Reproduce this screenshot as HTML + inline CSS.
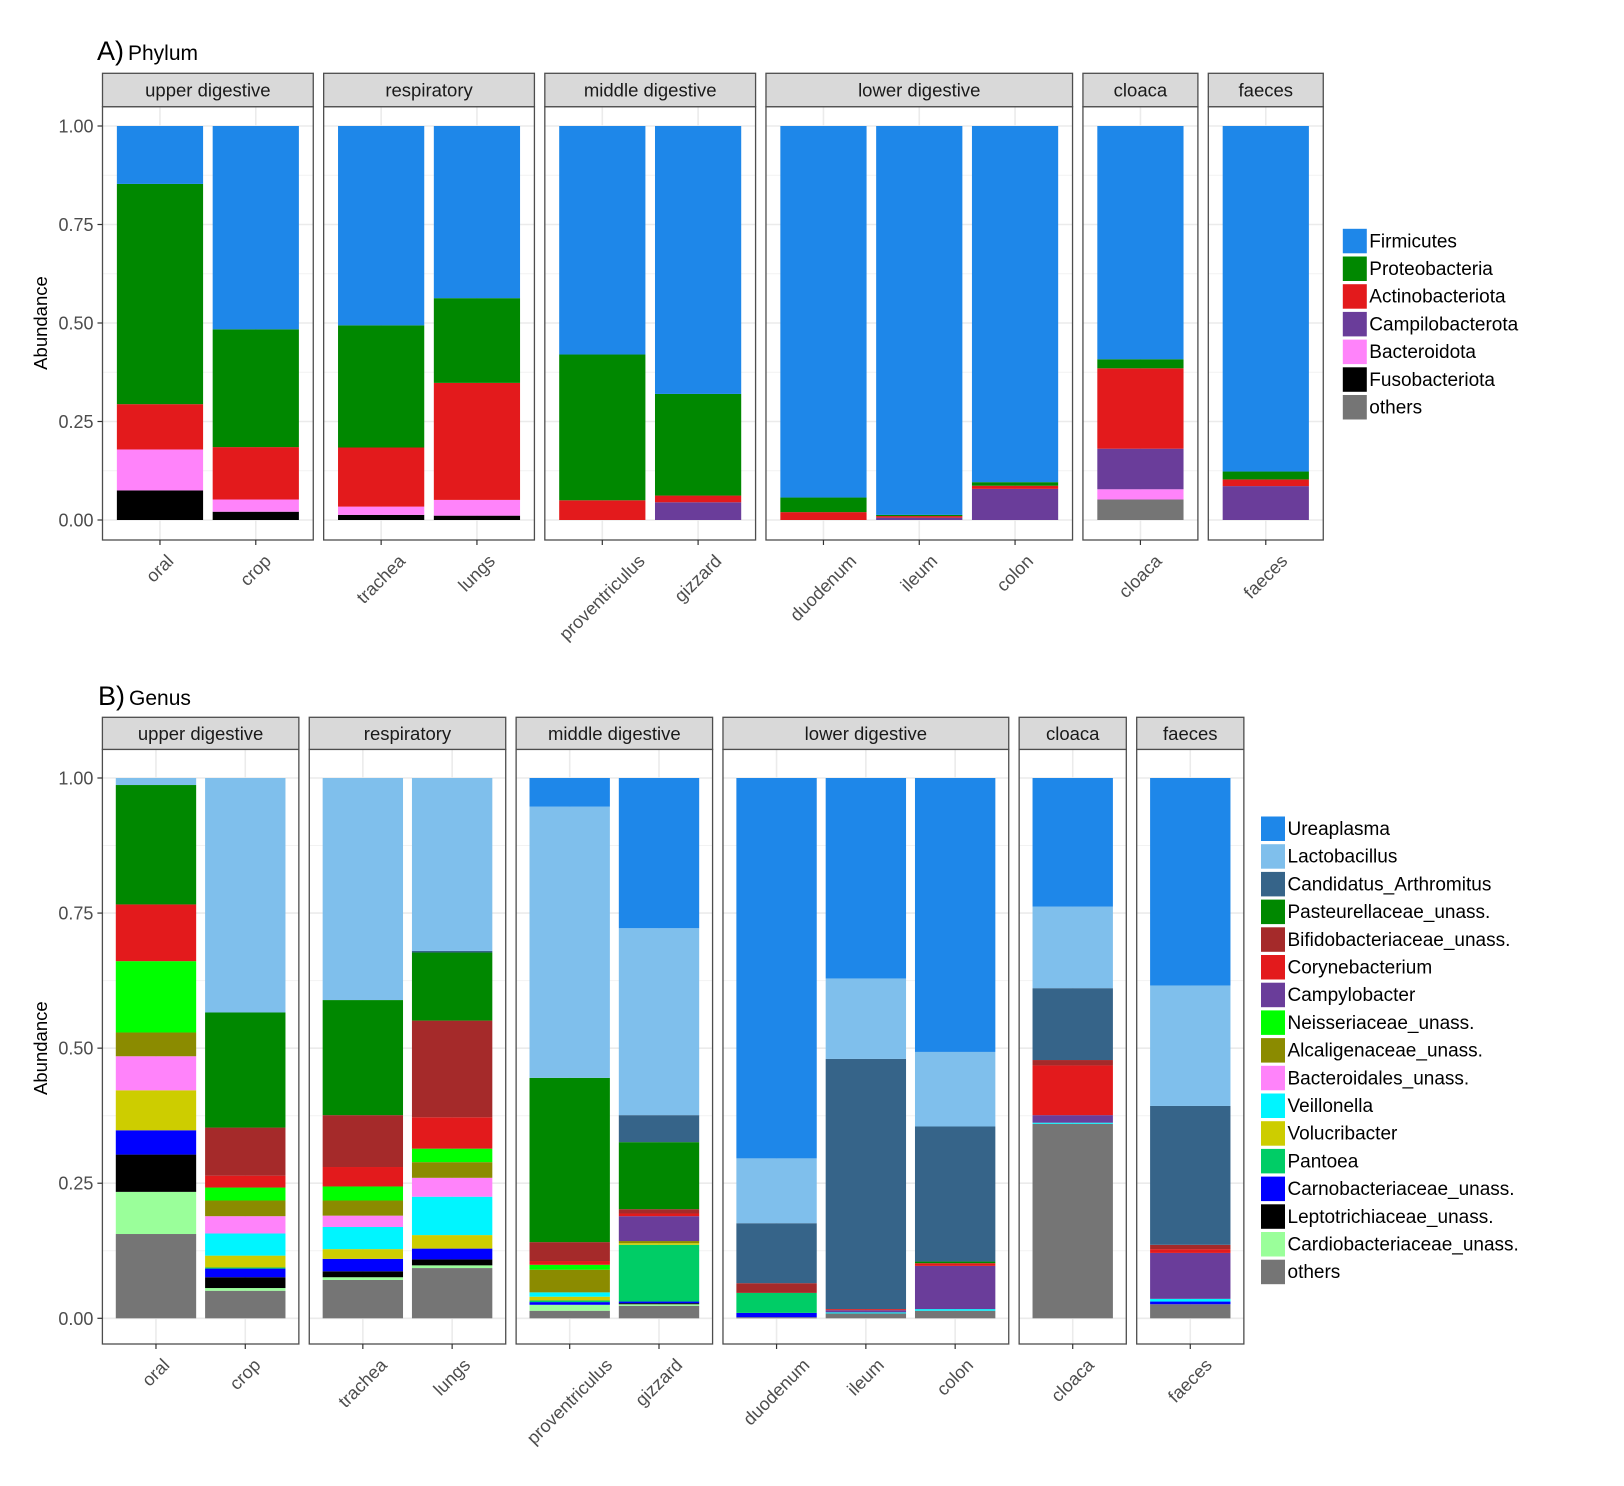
<!DOCTYPE html>
<html><head><meta charset="utf-8"><style>
html,body{margin:0;padding:0;background:#fff;}
svg{display:block;font-family:"Liberation Sans",Arial,sans-serif;}
</style></head><body>
<svg id="chart" width="1624" height="1486" viewBox="0 0 1624 1486" xmlns="http://www.w3.org/2000/svg">
<text x="97" y="60"><tspan font-size="27">A)</tspan><tspan font-size="21" dx="4">Phylum</tspan></text>
<text x="98" y="705"><tspan font-size="27">B)</tspan><tspan font-size="21" dx="4">Genus</tspan></text>
</svg>
<script>
// ---------- shared data ----------
const groups = ["upper digestive","respiratory","middle digestive","lower digestive","cloaca","faeces"];
const groupSamples = [["oral","crop"],["trachea","lungs"],["proventriculus","gizzard"],["duodenum","ileum","colon"],["cloaca"],["faeces"]];
const yTicks = [0,0.25,0.5,0.75,1];
const yTickLabels = ["0.00","0.25","0.50","0.75","1.00"];

// ---------- Phylum data (stack order bottom -> top is reverse of legend) ----------
const phylaNames = ["Firmicutes","Proteobacteria","Actinobacteriota","Campilobacterota","Bacteroidota","Fusobacteriota","others"];
const phylaColors = ["#1e87e9","#008800","#e31a1c","#6a3d9a","#ff83fa","#000000","#757575"];
const firmicutes     = [0.147,0.516,0.506,0.437,0.58,0.68,0.943,0.987,0.904,0.592,0.877];
const proteobacteria = [0.559,0.299,0.310,0.215,0.37,0.258,0.037,0.003,0.009,0.023,0.020];
const actinobacteriota=[0.115,0.133,0.150,0.297,0.05,0.017,0.020,0.004,0.008,0.204,0.017];
const campilobacterota=[0,0,0,0,0,0.045,0,0.006,0.079,0.103,0.086];
const bacteroidota   = [0.104,0.031,0.021,0.040,0,0,0,0,0,0.026,0];
const fusobacteriota = [0.075,0.021,0.013,0.011,0,0,0,0,0,0,0];
const phylaOthers    = [0,0,0,0,0,0,0,0,0,0.052,0];
const phylaSeries = [firmicutes,proteobacteria,actinobacteriota,campilobacterota,bacteroidota,fusobacteriota,phylaOthers];

// ---------- Genus data ----------
const genusNames = ["Ureaplasma","Lactobacillus","Candidatus_Arthromitus","Pasteurellaceae_unass.","Bifidobacteriaceae_unass.","Corynebacterium","Campylobacter","Neisseriaceae_unass.","Alcaligenaceae_unass.","Bacteroidales_unass.","Veillonella","Volucribacter","Pantoea","Carnobacteriaceae_unass.","Leptotrichiaceae_unass.","Cardiobacteriaceae_unass.","others"];
const genusColors = ["#1e87e9","#7fbfec","#366489","#008800","#a52a2a","#e31a1c","#6a3d9a","#00ff00","#8b8b00","#ff83fa","#00f5ff","#cdcd00","#00cd66","#0000ff","#000000","#9aff9a","#757575"];
const ureaplasma  = [0,0,0,0,0.053,0.278,0.704,0.371,0.507,0.238,0.384];
const lactobacillus=[0.013,0.434,0.411,0.320,0.502,0.346,0.120,0.149,0.138,0.151,0.223];
const candidatus  = [0,0,0,0.003,0,0.050,0.111,0.463,0.250,0.133,0.257];
const pasteurellaceae=[0.221,0.213,0.213,0.126,0.304,0.124,0,0,0.003,0,0];
const bifidobacteriaceae=[0,0.089,0.096,0.179,0.035,0.008,0.018,0,0,0.010,0.008];
const corynebacterium=[0.105,0.022,0.036,0.058,0.007,0.005,0,0.002,0.005,0.092,0.007];
const campylobacter=[0,0,0,0,0,0.046,0,0.004,0.080,0.014,0.085];
const neisseriaceae=[0.132,0.024,0.026,0.025,0.009,0,0,0,0,0,0];
const alcaligenaceae=[0.044,0.029,0.028,0.029,0.042,0.004,0,0,0,0,0];
const bacteroidales=[0.063,0.032,0.021,0.035,0,0,0,0,0,0,0];
const veillonella = [0,0.041,0.041,0.071,0.008,0,0,0.002,0.003,0.002,0.005];
const volucribacter=[0.074,0.022,0.018,0.025,0.007,0.003,0,0,0,0,0];
const pantoea     = [0,0.002,0,0,0.003,0.105,0.037,0,0,0,0];
const carnobacteriaceae=[0.045,0.016,0.023,0.020,0.005,0.003,0.008,0,0,0,0.005];
const leptotrichiaceae=[0.069,0.020,0.011,0.011,0,0.002,0,0,0,0,0];
const cardiobacteriaceae=[0.078,0.005,0.005,0.005,0.011,0.003,0,0,0,0,0];
const genusOthers = [0.156,0.051,0.071,0.093,0.014,0.023,0.002,0.009,0.014,0.360,0.026];
const genusSeries = [ureaplasma,lactobacillus,candidatus,pasteurellaceae,bifidobacteriaceae,corynebacterium,campylobacter,neisseriaceae,alcaligenaceae,bacteroidales,veillonella,volucribacter,pantoea,carnobacteriaceae,leptotrichiaceae,cardiobacteriaceae,genusOthers];

const NS = "http://www.w3.org/2000/svg";
const svg = document.getElementById("chart");
function mk(tag, attrs, parent){
  const e = document.createElementNS(NS, tag);
  for (const k in attrs) e.setAttribute(k, attrs[k]);
  (parent||svg).appendChild(e);
  return e;
}

function drawChart(cfg){
  const g = mk("g", {});
  
  
  const y = v => cfg.y0 + (cfg.y1 - cfg.y0) * v;   // y-axis function
  let left = cfg.x0;
  let sIdx = 0;
  groups.forEach((grp, gi) => {
    const n = groupSamples[gi].length;
    const w = (n + 0.2) * cfg.unit;
    const xs = i => left + (0.6 + i) * cfg.unit;  // x-axis function (centre of category i)
    // panel background + grid
    const pg = mk("g", {}, g);
    
    
    mk("rect", {x:left, y:cfg.stripBottom, width:w, height:cfg.panelBottom-cfg.stripBottom, fill:"#fff"}, pg);
    for (let m = 0; m < yTicks.length - 1; m++) {
      const v = (yTicks[m] + yTicks[m+1]) / 2;
      mk("line", {x1:left, x2:left+w, y1:y(v), y2:y(v), stroke:"#f2f2f2", "stroke-width":1}, pg);
    }
    yTicks.forEach(v => mk("line", {x1:left, x2:left+w, y1:y(v), y2:y(v), stroke:"#ebebeb", "stroke-width":1.6}, pg));
    for (let i = 0; i < n; i++) mk("line", {x1:xs(i), x2:xs(i), y1:cfg.stripBottom, y2:cfg.panelBottom, stroke:"#ebebeb", "stroke-width":1.6}, pg);
    // bars
    for (let i = 0; i < n; i++) {
      const s = sIdx + i;
      let cum = 0;
      const bw = 0.9 * cfg.unit;
      for (let k = cfg.series.length - 1; k >= 0; k--) {
        const v = cfg.series[k][s];
        if (v <= 0) { continue; }
        const r = mk("rect", {x:xs(i)-bw/2, y:y(cum+v), width:bw, height:y(cum)-y(cum+v), fill:cfg.colors[k]}, pg);
        
        
        cum += v;
      }
      // tick + label
      mk("line", {x1:xs(i), x2:xs(i), y1:cfg.panelBottom, y2:cfg.panelBottom+5, stroke:"#333", "stroke-width":1.2}, g);
      const t = mk("text", {"font-size":18, fill:"#4d4d4d", "text-anchor":"middle"}, g);
      t.textContent = groupSamples[gi][i];
      
      
      const L = t.getComputedTextLength ? t.getComputedTextLength() : 60;
      const cy = cfg.panelBottom + 13 + (L/2 + 13) * 0.707;
      const cx = xs(i) + 4;
      t.setAttribute("transform", `translate(${cx},${cy}) rotate(-45)`);
    }
    // border
    mk("rect", {x:left, y:cfg.stripBottom, width:w, height:cfg.panelBottom-cfg.stripBottom, fill:"none", stroke:"#4d4d4d", "stroke-width":1.3}, pg);
    // strip
    const st = mk("rect", {x:left, y:cfg.stripTop, width:w, height:cfg.stripBottom-cfg.stripTop, fill:"#d9d9d9", stroke:"#4d4d4d", "stroke-width":1.3}, g);
    
    
    const stt = mk("text", {x:left+w/2, y:(cfg.stripTop+cfg.stripBottom)/2+6.5, "font-size":18.5, fill:"#1a1a1a", "text-anchor":"middle"}, g);
    stt.textContent = grp;
    
    
    sIdx += n;
    left += w + cfg.gap;
  });
  // y axis
  yTicks.forEach((v, i) => {
    mk("line", {x1:cfg.x0-5, x2:cfg.x0, y1:y(v), y2:y(v), stroke:"#333", "stroke-width":1.2}, g);
    const t = mk("text", {x:cfg.x0-9, y:y(v)+6.5, "font-size":18, fill:"#4d4d4d", "text-anchor":"end"}, g);
    t.textContent = yTickLabels[i];
    
    
  });
  const yt = mk("text", {transform:`translate(47,${(cfg.y0+cfg.y1)/2}) rotate(-90)`, "font-size":18.5, fill:"#000", "text-anchor":"middle"}, g);
  yt.textContent = "Abundance";
  
  
  // legend
  const lg = mk("g", {}, g);
  
  
  cfg.names.forEach((nm, k) => {
    const ky = cfg.legY + k * 27.7;
    const e = mk("g", {}, lg);
    
    
    mk("rect", {x:cfg.legX, y:ky, width:25, height:25.5, fill:cfg.colors[k], stroke:"#fff", "stroke-width":1}, e);
    const t = mk("text", {x:cfg.legX+27, y:ky+19, "font-size":19, fill:"#000"}, e);
    t.textContent = nm;
  });
}

drawChart({id:"phylum", x0:102.5, unit:95.8, gap:10.4, y0:520, y1:126, stripTop:73.3, stripBottom:106.7, panelBottom:540,
  series:phylaSeries, colors:phylaColors, names:phylaNames, legX:1342.3, legY:228.3});
drawChart({id:"genus", x0:102.4, unit:89.3, gap:10.4, y0:1318.3, y1:778, stripTop:717.3, stripBottom:749.4, panelBottom:1344,
  series:genusSeries, colors:genusColors, names:genusNames, legX:1260.5, legY:816});
</script>
</body></html>
